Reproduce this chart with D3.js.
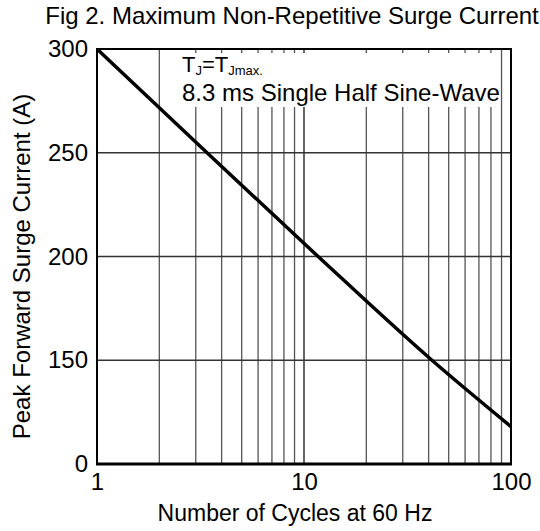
<!DOCTYPE html>
<html><head><meta charset="utf-8">
<script src="https://cdn.jsdelivr.net/npm/d3@7"></script>
<style>body{margin:0;background:#fff}svg{display:block}text{font-family:"Liberation Sans",Arial,sans-serif;fill:#000}</style>
</head><body><svg id="c" width="540" height="531"></svg>
<script>
const cycles = [1, 3.4, 11.7, 41.5, 100];
const current = [300, 250, 200, 150, 118];
const xTickValues = [1, 10, 100];
const xTickLabels = ["1", "10", "100"];
const xGridValues = [2,3,4,5,6,7,8,9,10,20,30,40,50,60,70,80,90];
const yTickValues = [100, 150, 200, 250, 300];
const yTickLabels = ["0", "150", "200", "250", "300"];
const yGridValues = [150, 200, 250];

const L = 97, R = 511, T = 49, B = 464;
const svg = d3.select("#c");
const x = d3.scaleLog().domain([1, 100]).range([L, R]);
const y = d3.scaleLinear().domain([100, 300]).range([B, T]);

// grid
svg.append("g").selectAll("line").data(xGridValues).join("line")
  .attr("x1", d => x(d)).attr("x2", d => x(d)).attr("y1", T).attr("y2", B)
  .attr("stroke", d => d === 10 ? "#111" : "#555").attr("stroke-width", 1.3);
svg.append("g").selectAll("line").data(yGridValues).join("line")
  .attr("x1", L).attr("x2", R).attr("y1", d => y(d)).attr("y2", d => y(d))
  .attr("stroke", "#333").attr("stroke-width", 1.3);

// annotation box (covers grid)
svg.append("rect").attr("x", 166).attr("y", 53).attr("width", 331).attr("height", 54).attr("fill", "#fff");
const t1 = svg.append("text").attr("x", 182).attr("y", 72).attr("font-size", 22);
t1.append("tspan").text("T");
t1.append("tspan").attr("font-size", 13).attr("dy", 3).text("J");
t1.append("tspan").attr("dy", -3).text("=T");
t1.append("tspan").attr("font-size", 13).attr("dy", 3).text("Jmax.");
svg.append("text").attr("x", 182).attr("y", 101).attr("font-size", 24).text("8.3 ms Single Half Sine-Wave");

// frame
svg.append("rect").attr("x", L).attr("y", T).attr("width", R - L).attr("height", B - T)
  .attr("fill", "none").attr("stroke", "#000").attr("stroke-width", 2);
svg.append("line").attr("x1", L - 1).attr("x2", R + 1).attr("y1", B).attr("y2", B).attr("stroke", "#000").attr("stroke-width", 3);

// curve
svg.append("path").datum(cycles.map((c, i) => [c, current[i]]))
  .attr("d", d3.line().x(d => x(d[0])).y(d => y(d[1])).curve(d3.curveMonotoneX))
  .attr("fill", "none").attr("stroke", "#000").attr("stroke-width", 3.5);

// axes
const xAxis = d3.axisBottom(x).tickValues(xTickValues).tickSize(0).tickPadding(9)
  .tickFormat((d, i) => xTickLabels[i]);
const gx = svg.append("g").attr("transform", `translate(0,${B})`).call(xAxis);
gx.select(".domain").remove();
gx.selectAll("text").attr("font-size", 24).attr("font-family", '"Liberation Sans",Arial,sans-serif').attr("fill", "#000");

const yAxis = d3.axisLeft(y).tickValues(yTickValues).tickSize(0).tickPadding(9)
  .tickFormat((d, i) => yTickLabels[i]);
const gy = svg.append("g").attr("transform", `translate(${L},0)`).call(yAxis);
gy.select(".domain").remove();
gy.selectAll("text").attr("font-size", 24).attr("font-family", '"Liberation Sans",Arial,sans-serif').attr("fill", "#000");

// titles
svg.append("text").attr("x", 292).attr("y", 24).attr("text-anchor", "middle").attr("font-size", 24)
  .text("Fig 2. Maximum Non-Repetitive Surge Current");
svg.append("text").attr("x", 295).attr("y", 521).attr("text-anchor", "middle").attr("font-size", 23)
  .text("Number of Cycles at 60 Hz");
svg.append("text").attr("transform", `translate(30,${(T + B) / 2 + 10}) rotate(-90)`).attr("text-anchor", "middle").attr("font-size", 24)
  .text("Peak Forward Surge Current (A)");
</script></body></html>
